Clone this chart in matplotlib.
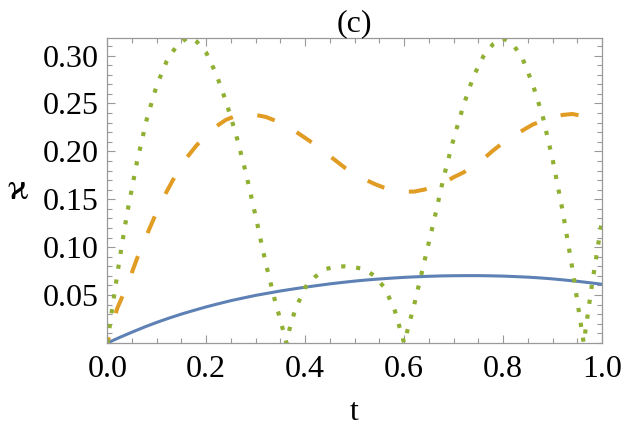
import numpy as np
import matplotlib
matplotlib.use('Agg')
import matplotlib.pyplot as plt
from matplotlib.ticker import MultipleLocator, FormatStrFormatter

# curve values
t_blue = [0.0, 0.025, 0.05, 0.075, 0.10, 0.125, 0.15, 0.175, 0.20, 0.225, 0.25,
          0.275, 0.30, 0.325, 0.35, 0.375, 0.40, 0.425, 0.45, 0.475, 0.50,
          0.525, 0.55, 0.575, 0.60, 0.625, 0.65, 0.675, 0.70, 0.725, 0.75,
          0.775, 0.80, 0.825, 0.85, 0.875, 0.90, 0.925, 0.95, 0.975, 1.0]
k_blue = [0.0, 0.0058, 0.0113, 0.0166, 0.0215, 0.026, 0.0302, 0.034, 0.0377, 0.041, 0.0442,
          0.047, 0.0497, 0.052, 0.0543, 0.0563, 0.0582, 0.060, 0.0617, 0.0632, 0.0646,
          0.0658, 0.0668, 0.0677, 0.0685, 0.0691, 0.0696, 0.0700, 0.0702, 0.0703, 0.0703,
          0.0701, 0.0698, 0.0693, 0.0687, 0.0679, 0.0669, 0.0657, 0.0644, 0.0629, 0.0613]

t_orange = [0.0, 0.02, 0.04, 0.06, 0.08, 0.10, 0.12, 0.14, 0.16, 0.18, 0.20,
            0.22, 0.24, 0.26, 0.28, 0.30, 0.32, 0.34, 0.36, 0.38, 0.40,
            0.42, 0.44, 0.46, 0.48, 0.50, 0.52, 0.54, 0.56, 0.58, 0.60,
            0.62, 0.64, 0.66, 0.68, 0.70, 0.72, 0.74, 0.76, 0.78, 0.80,
            0.82, 0.84, 0.86, 0.88, 0.90, 0.92, 0.94, 0.96, 0.98, 1.0]
k_orange = [0.0, 0.036, 0.060, 0.088, 0.113, 0.137, 0.158, 0.177, 0.193, 0.206, 0.217,
            0.226, 0.233, 0.237, 0.239, 0.238, 0.236, 0.232, 0.227, 0.221, 0.214,
            0.207, 0.199, 0.191, 0.183, 0.177, 0.171, 0.166, 0.162, 0.159, 0.158,
            0.158, 0.160, 0.163, 0.167, 0.173, 0.178, 0.185, 0.192, 0.201, 0.209,
            0.216, 0.222, 0.228, 0.232, 0.236, 0.238, 0.239, 0.237, 0.233, 0.229]

t_green = [0.0, 0.01, 0.02, 0.03, 0.04, 0.06, 0.08, 0.10, 0.12, 0.14, 0.16, 0.17,
           0.18, 0.20, 0.22, 0.24, 0.26, 0.28, 0.30, 0.32, 0.34, 0.35, 0.362,
           0.37, 0.38, 0.40, 0.42, 0.44, 0.46, 0.48, 0.50, 0.52, 0.54, 0.56, 0.58,
           0.60, 0.62, 0.64, 0.66, 0.68, 0.70, 0.72, 0.74, 0.76, 0.78, 0.80,
           0.82, 0.84, 0.86, 0.88, 0.90, 0.92, 0.94, 0.95, 0.963, 0.98, 1.0]
k_green = [0.0, 0.036, 0.071, 0.104, 0.135, 0.189, 0.234, 0.269, 0.294, 0.310, 0.318, 0.319,
           0.315, 0.303, 0.281, 0.252, 0.218, 0.178, 0.132, 0.084, 0.042, 0.024, 0.0,
           0.018, 0.035, 0.058, 0.069, 0.077, 0.0795, 0.080, 0.079, 0.077, 0.070, 0.058, 0.036,
           0.0, 0.039, 0.083, 0.127, 0.173, 0.213, 0.248, 0.278, 0.299, 0.312, 0.318,
           0.312, 0.296, 0.270, 0.237, 0.192, 0.139, 0.078, 0.044, 0.0, 0.062, 0.128]

plt.rcParams['font.family'] = ['Liberation Serif', 'DejaVu Serif']

fig = plt.figure(figsize=(6.23, 4.29), dpi=100)
ax = fig.add_axes([0.1722, 0.2005, 0.7941, 0.7102])

ax.plot(t_blue, k_blue, color='#5E81B5', lw=2.2, solid_capstyle='butt')
ax.plot(t_orange, k_orange, color='#E19C24', lw=2.9, linestyle=(3.0, (4.5, 6.2)),
        dash_capstyle='butt')
ax.plot(t_green, k_green, color='#8FB032', lw=3.0, linestyle=(0, (1, 2.6)),
        dash_capstyle='butt')

ax.set_xlim(0, 1)
ax.set_ylim(0, 0.318)

ax.xaxis.set_major_locator(MultipleLocator(0.2))
ax.xaxis.set_minor_locator(MultipleLocator(0.05))
ax.yaxis.set_major_locator(MultipleLocator(0.05))
ax.yaxis.set_minor_locator(MultipleLocator(0.01))
ax.xaxis.set_major_formatter(FormatStrFormatter('%.1f'))
ax.yaxis.set_major_formatter(FormatStrFormatter('%.2f'))
ax.set_yticks([0.05, 0.10, 0.15, 0.20, 0.25, 0.30])

ax.tick_params(which='both', direction='in', top=True, right=True, color='#999999',
               width=0.8, labelsize=23)
ax.tick_params(axis='x', pad=9)
ax.tick_params(axis='y', pad=6)
ax.tick_params(which='major', length=6)
ax.tick_params(which='minor', length=3.5)
for s in ax.spines.values():
    s.set_color('#999999')
    s.set_linewidth(0.9)

ax.set_title('(c)', fontsize=23, pad=3)
ax.set_xlabel('t', fontsize=23, labelpad=10)
ax.set_ylabel('\u03f0', fontsize=26, rotation=0, labelpad=18, va='center')

fig.savefig('out.png', dpi=100)
